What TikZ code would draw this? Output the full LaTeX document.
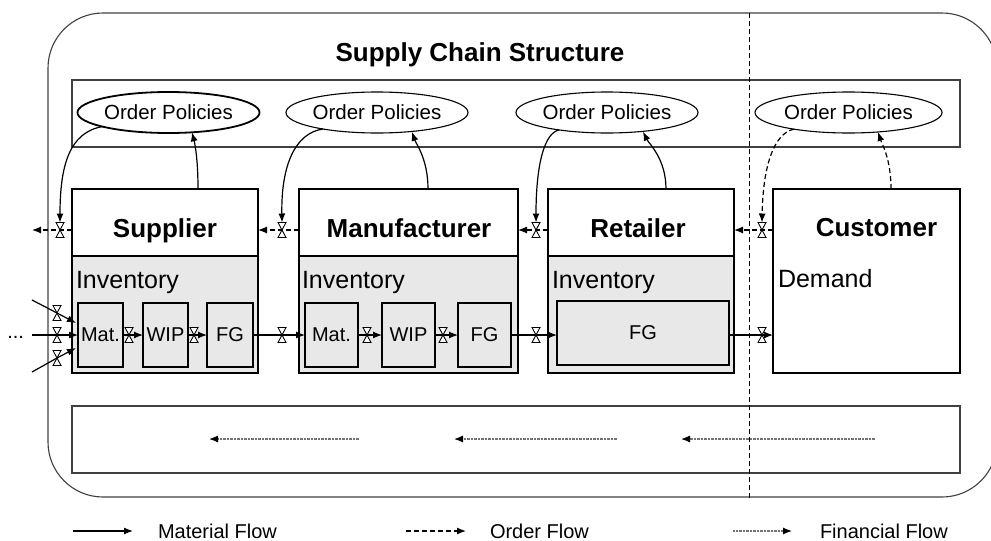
\documentclass[tikz,border=0pt]{standalone}
\usepackage{fontspec}
\setmainfont{Liberation Sans}
\usetikzlibrary{arrows.meta,shapes.geometric,calc}
\pgfdeclarelayer{fg}
\pgfsetlayers{main,fg}
\definecolor{invgray}{gray}{0.91}
\definecolor{framegray}{gray}{0.25}
\begin{document}
\begin{tikzpicture}[x=1pt,y=-1pt,
  every node/.style={inner sep=0pt,outer sep=0pt},
  >={Latex[length=9pt,width=7pt]},
  frame/.style={draw=framegray,line width=1.1pt},
  toppart/.style={draw,line width=1.2pt,fill=white,minimum height=67pt},
  invpart/.style={draw,line width=1.2pt,fill=invgray,minimum height=117pt},
  stock/.style={draw,line width=1.1pt,fill=invgray,minimum height=64pt,font=\fontsize{20}{24}\selectfont},
  policy/.style={ellipse,draw,line width=1.1pt,fill=white,minimum height=41pt,font=\fontsize{20.5}{24}\selectfont},
  actor/.style={font=\fontsize{26}{30}\selectfont\bfseries,anchor=base},
  invtext/.style={font=\fontsize{25}{30}\selectfont,anchor=base west},
  legendtext/.style={font=\fontsize{20}{24}\selectfont,anchor=west},
  valve/.style={minimum width=8pt,minimum height=15pt},
  matflow/.style={->,line width=1.2pt},
  ordflow/.style={->,line width=1.2pt,dash pattern=on 5pt off 3pt},
  finflow/.style={-{Latex[length=9pt,width=7pt,color=black]},draw=black!55,line width=1.2pt,dash pattern=on 0.7pt off 0.7pt},
  divider/.style={line width=0.9pt,dash pattern=on 5pt off 3pt}]
\clip (0,0) rectangle (991,541);

% frames
\node[frame,rounded corners=55pt,minimum width=949pt,minimum height=484pt] (chain) at (522.5,255) {};
\node[frame,minimum width=888pt,minimum height=67pt] (polrow) at (516,113.5) {};
\node[frame,minimum width=888pt,minimum height=67pt] (finrow) at (516,439.5) {};
\node[font=\fontsize{26}{30}\selectfont\bfseries,anchor=base] (title) at (480,61) {Supply Chain Structure};

% boundary of the chain
\coordinate (dTop) at (749,13);
\coordinate (dBot) at (749,499);
\draw[divider] (dTop) -- (dBot);

% order policies
\node[policy,minimum width=179pt,line width=1.8pt] (pol1) at (168.5,112.5) {Order Policies};
\node[policy,minimum width=182pt] (pol2) at (377,112.5) {Order Policies};
\node[policy,minimum width=180pt] (pol3) at (607,112.5) {Order Policies};
\node[policy,minimum width=187pt] (pol4) at (848.5,112.5) {Order Policies};

% supplier
\node[toppart,minimum width=186pt] (supTop) at (165,222.5) {};
\node[invpart,minimum width=186pt] (supInv) at (165,314.5) {};
\node[actor] (supL) at (165,237) {Supplier};
\node[invtext] (supI) at (76,288) {Inventory};
\node[stock,minimum width=45pt] (supMat) at (100.5,335) {Mat.};
\node[stock,minimum width=45pt] (supWIP) at (165.5,335) {WIP};
\node[stock,minimum width=46pt] (supFG) at (230,335) {FG};

% manufacturer
\node[toppart,minimum width=219pt] (manTop) at (408.5,222.5) {};
\node[invpart,minimum width=219pt] (manInv) at (408.5,314.5) {};
\node[actor] (manL) at (409,237) {Manufacturer};
\node[invtext] (manI) at (302,288) {Inventory};
\node[stock,minimum width=53pt] (manMat) at (331.5,335) {Mat.};
\node[stock,minimum width=53pt] (manWIP) at (408.5,335) {WIP};
\node[stock,minimum width=53pt] (manFG) at (484.5,335) {FG};

% retailer
\node[toppart,minimum width=186pt] (retTop) at (641,222.5) {};
\node[invpart,minimum width=186pt] (retInv) at (641,314.5) {};
\node[actor] (retL) at (638,237) {Retailer};
\node[invtext] (retI) at (552,288) {Inventory};
\node[stock,minimum width=172pt] (retFG) at (643,333) {FG};

% customer
\node[draw,line width=1.2pt,minimum width=187pt,minimum height=184pt] (cust) at (866.5,281) {};
\node[actor] (custL) at (876.5,236) {Customer};
\node[invtext] (custD) at (778,287) {Demand};

% valves
\node[valve] (vo1) at (60,230) {};
\node[valve] (vo2) at (282,230) {};
\node[valve] (vo3) at (536,230) {};
\node[valve] (vo4) at (762,230) {};
\node[valve] (vi1) at (57,313) {};
\node[valve] (vi2) at (57,335) {};
\node[valve] (vi3) at (57,358) {};
\node[valve] (vm1) at (129,335) {};
\node[valve] (vm2) at (194,335) {};
\node[valve] (vm3) at (282,335) {};
\node[valve] (vm4) at (367,335) {};
\node[valve] (vm5) at (443,335) {};
\node[valve] (vm6) at (536,335) {};
\node[valve] (vm7) at (762,335) {};
\begin{pgfonlayer}{fg}
\foreach \v in {vo1,vo2,vo3,vo4,vi1,vi2,vi3,vm1,vm2,vm3,vm4,vm5,vm6,vm7}
  \filldraw[fill=white,line width=0.9pt]
    ($(\v.center)+(-4,-7.5)$) -- ++(8,0) -- ($(\v.center)+(-4,7.5)$) -- ++(8,0) -- cycle;
\end{pgfonlayer}

% material flow
\coordinate (in1) at (32,300);
\coordinate (in2) at (32,335);
\coordinate (in3) at (32,372);
\node[font=\fontsize{20}{24}\selectfont,anchor=base east] (more) at (24,338) {...};
\draw[matflow] (in1) -- (vi1.center) -- ($(supMat.west)+(-2,-12)$);
\draw[matflow] (in2) -- (vi2.center) -- (supMat.west);
\draw[matflow] (in3) -- (vi3.center) -- ($(supMat.west)+(-2,13)$);
\draw[matflow] (supMat) -- (vm1.center) -- (supWIP);
\draw[matflow] (supWIP) -- (vm2.center) -- (supFG);
\draw[matflow] (supFG) -- (vm3.center) -- (manMat);
\draw[matflow] (manMat) -- (vm4.center) -- (manWIP);
\draw[matflow] (manWIP) -- (vm5.center) -- (manFG);
\draw[matflow] (manFG.east) -- (vm6.center) -- (retFG.west |- vm6);
\draw[matflow] (retFG.east |- vm7) -- (vm7.center) -- (cust.west |- vm7);

% order flow
\coordinate (oEnd) at (32,230);
\draw[ordflow] (supTop.west |- vo1) -- (vo1.center) -- (oEnd);
\draw[ordflow] (manTop.west |- vo2) -- (vo2.center) -- (supTop.east |- vo2);
\draw[ordflow] (retTop.west |- vo3) -- (vo3.center) -- (manTop.east |- vo3);
\draw[ordflow] (cust.west |- vo4) -- (vo4.center) -- (retTop.east |- vo4);

% information to and from the policies
\draw[matflow] ($(supTop.north)+(33,0)$) .. controls +(0,-30) and +(3,12) .. ($(pol1.south)+(23.5,-0.7)$);
\draw[matflow] ($(manTop.north)+(19.5,0)$) .. controls +(0,-30) and +(4,12) .. ($(pol2.south)+(35,-1.2)$);
\draw[matflow] ($(retTop.north)+(25,0)$) .. controls +(0,-30) and +(6,12) .. ($(pol3.south)+(36,-1.3)$);
\draw[ordflow] ($(cust.north)+(24.5,0)$) .. controls +(0,-30) and +(4,12) .. ($(pol4.south)+(29.5,-1)$);
\draw[matflow] (pol1.192) .. controls +(-33,6) and +(0,-57) .. (vo1.north);
\draw[matflow] (pol2.197) .. controls +(-28,4) and +(-1,-57) .. (vo2.north);
\draw[matflow] (pol3.200) .. controls +(-15,3) and +(0,-57) .. (vo3.north);
\draw[ordflow] (pol4.197) .. controls +(-20,4) and +(1,-57) .. (vo4.north);

% financial flow
\coordinate (fA1) at (359,439); \coordinate (fB1) at (209,439);
\coordinate (fA2) at (617,439); \coordinate (fB2) at (454,439);
\coordinate (fA3) at (875,439); \coordinate (fB3) at (681,439);
\draw[finflow] (fA1) -- (fB1);
\draw[finflow] (fA2) -- (fB2);
\draw[finflow] (fA3) -- (fB3);

% legend
\coordinate (lgA1) at (73,531); \coordinate (lgB1) at (133,531);
\coordinate (lgA2) at (406,531); \coordinate (lgB2) at (466,531);
\coordinate (lgA3) at (733,531); \coordinate (lgB3) at (792,531);
\draw[matflow] (lgA1) -- (lgB1);
\draw[ordflow] (lgA2) -- (lgB2);
\draw[finflow] (lgA3) -- (lgB3);
\node[legendtext] (lgT1) at (158,531) {Material Flow};
\node[legendtext] (lgT2) at (490,531) {Order Flow};
\node[legendtext] (lgT3) at (820,531) {Financial Flow};
\end{tikzpicture}
\end{document}
